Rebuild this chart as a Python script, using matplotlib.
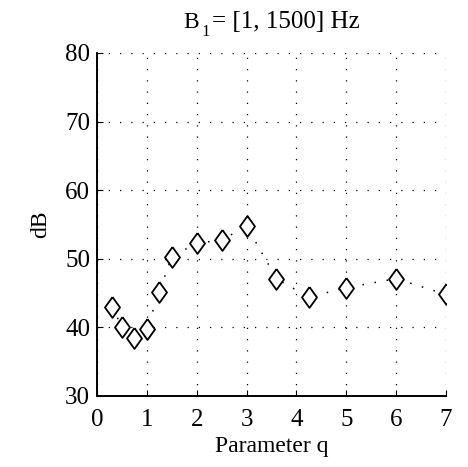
import numpy as np
import matplotlib.pyplot as plt

plt.rcParams['font.family'] = ['Liberation Serif', 'DejaVu Serif']

# data
q_values = [0.3, 0.5, 0.75, 1.0, 1.25, 1.5, 2.0, 2.5, 3.0, 3.6, 4.25, 5.0, 6.0, 7.0]
db_values = [43.0, 40.1, 38.4, 39.8, 45.2, 50.3, 52.3, 52.7, 54.8, 47.1, 44.4, 45.8, 47.1, 44.8]
x_ticks = [0, 1, 2, 3, 4, 5, 6, 7]
y_ticks = [30, 40, 50, 60, 70, 80]

W, H = 468, 467
fig = plt.figure(figsize=(W / 100, H / 100), dpi=100)
ax = fig.add_axes([97 / W, 1 - 396 / H, (446 - 97) / W, (396 - 53) / H])

# tall diamond like the matlab one
tall_diamond = [(0, 1), (0.72, 0), (0, -1), (-0.72, 0), (0, 1)]

ax.plot(q_values, db_values, linestyle=(0, (1, 7)), color='black', linewidth=1.1,
        marker=tall_diamond, markersize=15, markerfacecolor='white',
        markeredgecolor='black', markeredgewidth=1.3)

ax.set_xlim(0, 7)
ax.set_ylim(30, 80)
ax.set_xticks(x_ticks)
ax.set_yticks(y_ticks)
ax.grid(True, linestyle=(0, (1, 8)), color='black', linewidth=0.9)
ax.spines['top'].set_visible(False)
ax.spines['right'].set_visible(False)
ax.spines['left'].set_linewidth(1.4)
ax.spines['bottom'].set_linewidth(1.4)
ax.tick_params(direction='in', length=4, labelsize=18)
ax.tick_params(axis='x', pad=9)
ax.tick_params(axis='y', pad=5)

# title with a low subscript
fig.text(183 / W, 1 - 28 / H, 'B', fontsize=17, ha='left', va='baseline')
fig.text(201 / W, 1 - 36 / H, '1', fontsize=12, ha='left', va='baseline')
fig.text(212 / W, 1 - 28 / H, '= [1, 1500] Hz', fontsize=18, ha='left', va='baseline')

ax.set_xlabel('Parameter q', fontsize=17, labelpad=4)
ax.set_ylabel('dB', fontsize=17, labelpad=10)

fig.savefig('out.png', dpi=100)
